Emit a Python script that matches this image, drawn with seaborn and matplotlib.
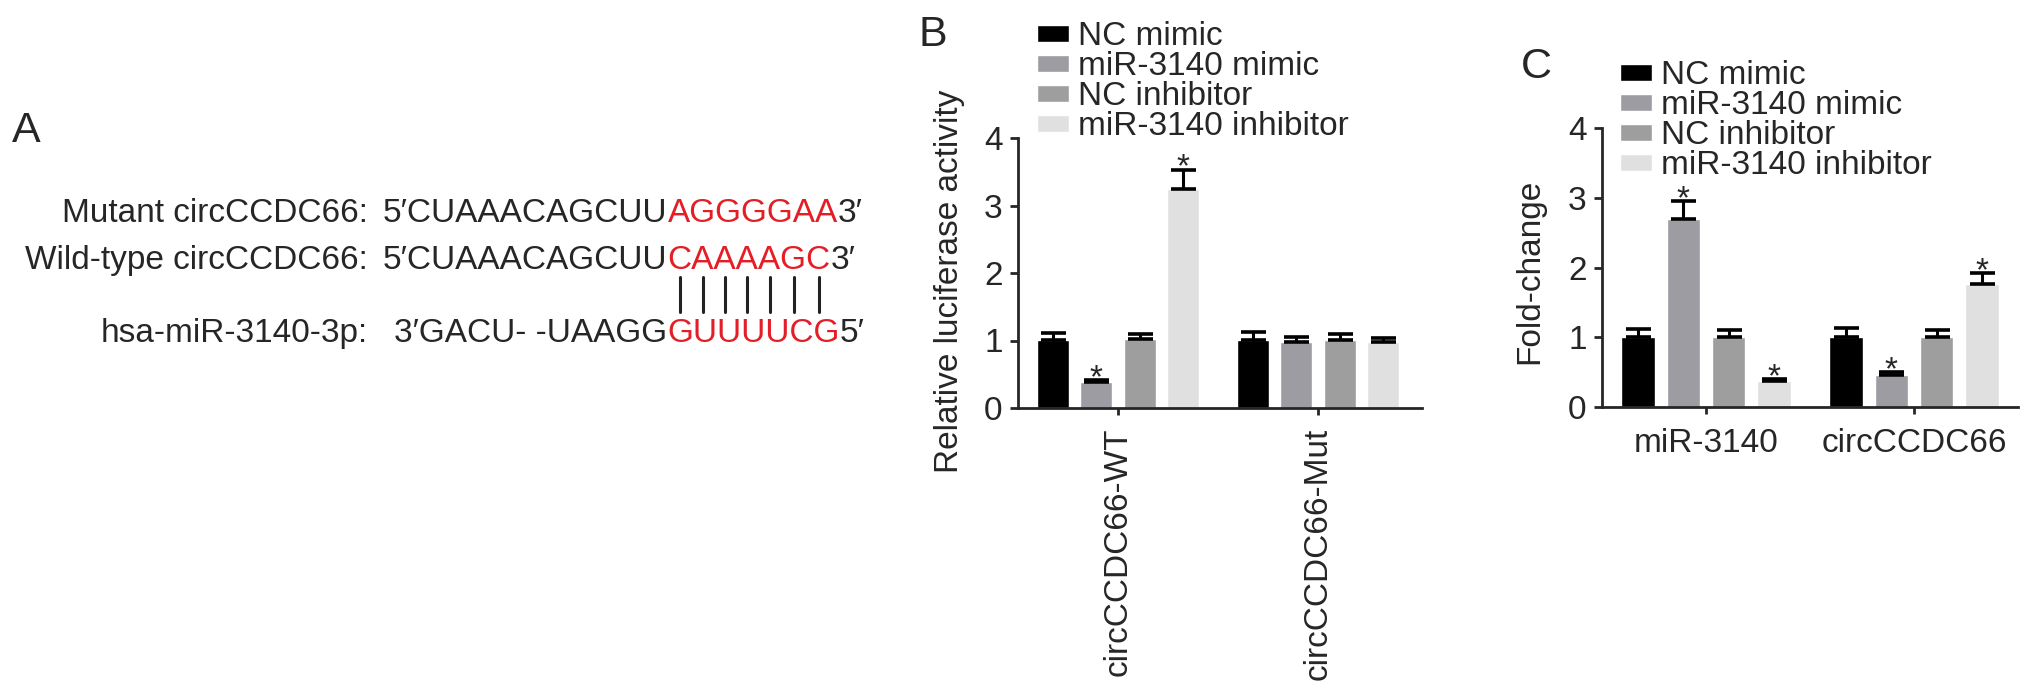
import numpy as np
import pandas as pd
import matplotlib
matplotlib.use("Agg")
import matplotlib.pyplot as plt
import seaborn as sns

# ==========================================
# DATA
# ==========================================

treatments = ["NC mimic", "miR-3140 mimic", "NC inhibitor", "miR-3140 inhibitor"]
bar_colors = ["#000000", "#9c9ca2", "#9e9e9e", "#e0e0e0"]

# panel B: relative luciferase activity
luc_groups = ["circCCDC66-WT", "circCCDC66-Mut"]
luc_wt = [1.01, 0.38, 1.02, 3.25]
luc_wt_err = [0.10, 0.03, 0.07, 0.28]
luc_mut = [1.01, 0.98, 1.01, 0.98]
luc_mut_err = [0.11, 0.07, 0.09, 0.06]
luc_wt_star = [False, True, False, True]
luc_mut_star = [False, False, False, False]

# panel C: fold-change
fc_groups = ["miR-3140", "circCCDC66"]
fc_mir = [1.01, 2.70, 1.01, 0.37]
fc_mir_err = [0.11, 0.25, 0.09, 0.03]
fc_circ = [1.01, 0.46, 1.01, 1.77]
fc_circ_err = [0.12, 0.04, 0.09, 0.15]
fc_mir_star = [False, True, False, True]
fc_circ_star = [False, True, False, True]

y_ticks = [0, 1, 2, 3, 4]

# panel A: sequences
seq_labels = ["Mutant circCCDC66:", "Wild-type circCCDC66:", "hsa-miR-3140-3p:"]
seq_black = ["5\u2032CUAAACAGCUU", "5\u2032CUAAACAGCUU", "3\u2032GACU- -UAAGG"]
seq_red = ["AGGGGAA", "CAAAAGC", "GUUUUCG"]
seq_end = ["3\u2032", "3\u2032", "5\u2032"]

# ==========================================
# STYLE
# ==========================================

sns.set_style("ticks")
plt.rcParams['font.family'] = ['Liberation Sans', 'DejaVu Sans']
plt.rcParams['axes.linewidth'] = 2.0

W, H = 2032, 690
fig = plt.figure(figsize=(W / 100, H / 100), dpi=100)


def fx(x):
    return x / W


def fy(y):
    return 1 - y / H


FS = 24
RED = "#e41e26"


# ==========================================
# BAR PANEL HELPER
# ==========================================

def bar_panel(ax, groups, vals, errs, stars, ylabel, legend_xy):
    df = pd.DataFrame({
        "group": np.repeat(groups, len(treatments)),
        "treatment": treatments * len(groups),
        "value": vals[0] + vals[1],
    })
    sns.barplot(
        data=df, x="group", y="value", hue="treatment",
        hue_order=treatments, palette=bar_colors, saturation=1,
        width=0.87, gap=0.26, errorbar=None, ax=ax
    )

    bar_containers = list(ax.containers)
    for i, cont in enumerate(bar_containers):
        for j, bar in enumerate(cont):
            xc = bar.get_x() + bar.get_width() / 2
            h = bar.get_height()
            e = errs[j][i]
            ax.errorbar(
                xc, h, yerr=[[0], [e]], fmt='none', ecolor='black',
                elinewidth=2.2, capsize=9, capthick=2.6, zorder=3
            )
            if stars[j][i]:
                ax.annotate(
                    "*", (xc, h + e), xytext=(0, -5),
                    textcoords='offset points', ha='center',
                    va='baseline', fontsize=FS, annotation_clip=False
                )

    handles, labels = ax.get_legend_handles_labels()
    ax.legend(
        handles, labels, loc='upper left',
        bbox_to_anchor=(fx(legend_xy[0]), fy(legend_xy[1])),
        bbox_transform=fig.transFigure, frameon=False, fontsize=FS,
        handlelength=0.95, handleheight=0.4, handletextpad=0.28,
        labelspacing=-0.03, borderpad=0, borderaxespad=0
    )

    ax.set_ylim(0, 4)
    ax.set_yticks(y_ticks)
    ax.set_xlabel("")
    ax.set_ylabel(ylabel, fontsize=FS)
    ax.tick_params(axis='y', length=6, width=2, labelsize=FS, pad=5)
    ax.tick_params(axis='x', length=5, width=2, labelsize=FS)
    sns.despine(ax=ax)


# ==========================================
# PANEL B
# ==========================================

axB = fig.add_axes([fx(1018), fy(408), (1422 - 1018) / W, (408 - 138) / H])
bar_panel(
    axB, luc_groups, [luc_wt, luc_mut], [luc_wt_err, luc_mut_err],
    [luc_wt_star, luc_mut_star], "Relative luciferase activity", (1037, 21)
)
axB.set_xlim(-0.5, 1.52)
axB.tick_params(axis='x', labelrotation=90, pad=9)
axB.yaxis.set_label_coords(-0.13, 0.47)

# ==========================================
# PANEL C
# ==========================================

axC = fig.add_axes([fx(1602), fy(407), (2018 - 1602) / W, (407 - 128) / H])
bar_panel(
    axC, fc_groups, [fc_mir, fc_circ], [fc_mir_err, fc_circ_err],
    [fc_mir_star, fc_circ_star], "Fold-change", (1620, 60)
)
axC.set_xlim(-0.5, 1.5)
axC.tick_params(axis='x', pad=10)
axC.yaxis.set_label_coords(-0.137, 0.485)

# ==========================================
# PANEL A (sequence alignment)
# ==========================================

renderer = fig.canvas.get_renderer()
baselines = [222, 269, 342]
label_right = 368
seq_left = 383

# black parts of the two circCCDC66 rows start after the colon
red_x = None
for k in range(3):
    fig.text(fx(label_right), fy(baselines[k]), seq_labels[k],
             ha='right', va='baseline', fontsize=FS)
    if k < 2:
        tb = fig.text(fx(seq_left), fy(baselines[k]), seq_black[k],
                      ha='left', va='baseline', fontsize=FS)
        bb = tb.get_window_extent(renderer)
        red_x = bb.x1 if red_x is None else max(red_x, bb.x1)

# miRNA black part ends where the red seed starts
fig.text(red_x / W, fy(baselines[2]), seq_black[2],
         ha='right', va='baseline', fontsize=FS)

for k in range(3):
    tr = fig.text(red_x / W, fy(baselines[k]), seq_red[k], color=RED,
                  ha='left', va='baseline', fontsize=FS)
    bb = tr.get_window_extent(renderer)
    fig.text(bb.x1 / W, fy(baselines[k]), seq_end[k],
             ha='left', va='baseline', fontsize=FS)

# pairing bars under the wild-type red letters
wt_red = seq_red[1]
for i in range(len(wt_red)):
    t0 = fig.text(0, 0, wt_red[:i], fontsize=FS)
    t1 = fig.text(0, 0, wt_red[:i + 1], fontsize=FS)
    w0 = t0.get_window_extent(renderer).width if i > 0 else 0
    w1 = t1.get_window_extent(renderer).width
    t0.remove()
    t1.remove()
    xc = red_x + (w0 + w1) / 2
    fig.add_artist(plt.Line2D([xc / W, xc / W], [fy(277), fy(312)],
                              transform=fig.transFigure, color="#222222",
                              linewidth=2.2))

# ==========================================
# PANEL LETTERS
# ==========================================

fig.text(fx(12), fy(142), "A", fontsize=31, va='baseline')
fig.text(fx(918), fy(46), "B", fontsize=31, va='baseline')
fig.text(fx(1521), fy(78), "C", fontsize=31, va='baseline')

fig.savefig("out.png", dpi=100)
